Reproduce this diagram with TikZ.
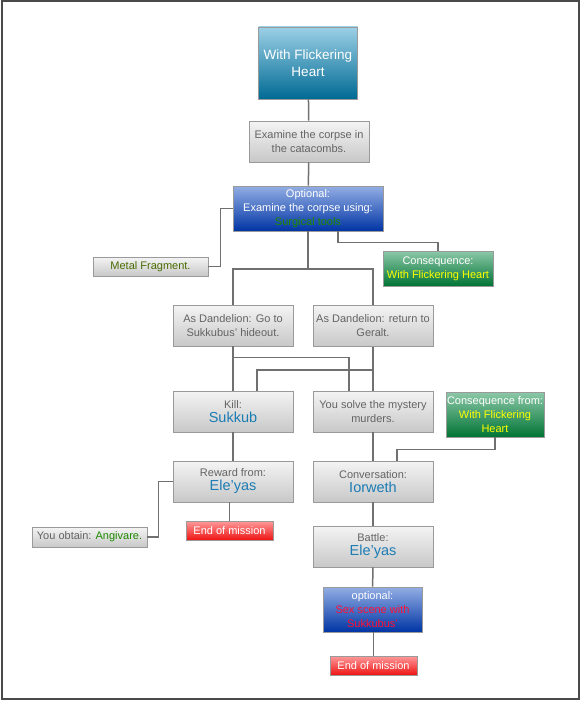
\documentclass[tikz,border=0pt]{standalone}
\usepackage{fontspec}
\setmainfont{Liberation Sans}
\definecolor{framegrey}{HTML}{4A4A4A}
\definecolor{boxedge}{HTML}{9A9A9A}
\definecolor{linkgrey}{HTML}{707070}
\definecolor{txtgrey}{HTML}{646464}
\definecolor{greytop}{HTML}{F4F4F4}
\definecolor{greybot}{HTML}{C8C8C8}
\definecolor{heartop}{HTML}{9CD0E6}
\definecolor{heartbot}{HTML}{006A94}
\definecolor{bluetop}{HTML}{93AEE4}
\definecolor{bluebot}{HTML}{0034A4}
\definecolor{greentop}{HTML}{8CC8A8}
\definecolor{greenbot}{HTML}{007434}
\definecolor{redtop}{HTML}{FF9A9A}
\definecolor{redbot}{HTML}{EE1414}
\definecolor{nameblue}{HTML}{1C7CB4}
\definecolor{itemgreen}{HTML}{1E8A00}
\definecolor{fraggreen}{HTML}{4A6C00}
\definecolor{tyellow}{HTML}{FFFF00}
\definecolor{sexred}{HTML}{FF1034}
\newcommand\bigname[1]{{\fontsize{14.5}{16}\selectfont\color{nameblue}#1}}
\begin{document}
\begin{tikzpicture}[x=1pt,y=-1pt,
  box/.style={draw=boxedge, line width=0.8pt, align=center, inner sep=1pt, font=\fontsize{11}{14}\selectfont},
  greybox/.style={box, top color=greytop, bottom color=greybot, text=txtgrey, minimum width=120, minimum height=41},
  bluebox/.style={box, top color=bluetop, bottom color=bluebot, text=white},
  greenbox/.style={box, top color=greentop, bottom color=greenbot, text=white},
  redbox/.style={box, top color=redtop, bottom color=redbot, text=white, minimum width=87, minimum height=19},
  link/.style={draw=linkgrey, line width=1.5pt}]
\useasboundingbox (0,0) rectangle (581,701);
\draw[line width=2pt, framegrey] (1.5,1.5) rectangle (578.5,698.5);

\node[box, top color=heartop, bottom color=heartbot, text=white, minimum width=99, minimum height=72, font=\fontsize{13.5}{17}\selectfont] (heart) at (308,63) {With Flickering\\Heart};
\node[greybox] (examine) at (309,141.5) {Examine the corpse in\\the catacombs.};
\node[bluebox, minimum width=150, minimum height=45] (optional) at (308,208.5) {Optional:\\Examine the corpse using:\\\textcolor{itemgreen}{Surgical tools}};
\node[greybox, minimum width=115, minimum height=19, text=fraggreen] (metal) at (150.5,266.5) {Metal Fragment.};
\node[greenbox, minimum width=110, minimum height=35] (conseq) at (438,268.5) {Consequence:\\\textcolor{tyellow}{With Flickering Heart}};
\node[greybox] (hideout) at (233,325.5) {As Dandelion: Go to\\Sukkubus' hideout.};
\node[greybox] (geralt) at (373,326) {As Dandelion: return to\\Geralt.};
\node[greybox] (kill) at (233,411.5) {Kill:\\\bigname{Sukkub}};
\node[greybox] (solve) at (373,411.5) {You solve the mystery\\murders.};
\node[greenbox, minimum width=98, minimum height=45] (conseqfrom) at (495,414.5) {Consequence from:\\\textcolor{tyellow}{With Flickering}\\\textcolor{tyellow}{Heart}};
\node[greybox] (reward) at (233,481.5) {Reward from:\\\bigname{Ele’yas}};
\node[greybox] (conv) at (373,481.5) {Conversation:\\\bigname{Iorweth}};
\node[greybox, minimum width=115, minimum height=20] (obtain) at (89.5,537) {You obtain: \textcolor{itemgreen}{Angivare.}};
\node[redbox] (endleft) at (229.5,530.5) {End of mission};
\node[greybox] (battle) at (373,546.5) {Battle:\\\bigname{Ele’yas}};
\node[bluebox, minimum width=99, minimum height=45] (scene) at (372.5,609.5) {optional:\\\textcolor{sexred}{Sex scene with}\\\textcolor{sexred}{Sukkubus'}};
\node[redbox] (endbottom) at (373.5,665.5) {End of mission};

\draw[link] (heart) -- (examine);
\draw[link] (examine) -- (optional);
\draw[link] (optional.west) -- ++(-12,0) |- (metal.east);
\draw[link] ([xshift=30]optional.south) -- ++(0,11) -| (conseq.north);
\draw[link] (optional.south) -- ++(0,37.5) coordinate (split);
\draw[link] (split) -| (hideout.north);
\draw[link] (split) -| (geralt.north);
\draw[link] (hideout) -- (kill);
\draw[link] (hideout.south) ++(0,11) -| ([xshift=-24]solve.north);
\draw[link] (geralt) -- (solve);
\draw[link] (geralt.south) ++(0,23) -| ([xshift=24]kill.north);
\draw[link] (kill) -- (reward);
\draw[link] (solve) -- (conv);
\draw[link] (conseqfrom.south) -- ++(0,12) -| ([xshift=24]conv.north);
\draw[link] (reward.west) -- ++(-14,0) |- (obtain.east);
\draw[link] (reward.south -| endleft.north) -- (endleft.north);
\draw[link] (conv) -- (battle);
\draw[link] (battle) -- (scene);
\draw[link] (scene.south -| endbottom.north) -- (endbottom.north);
\end{tikzpicture}
\end{document}
